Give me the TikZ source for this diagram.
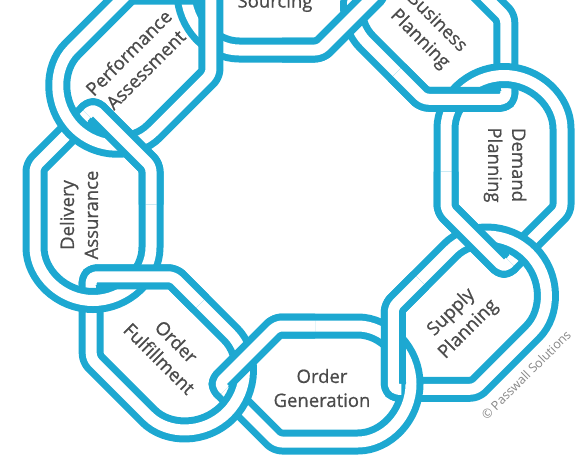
\documentclass[tikz,border=0pt]{standalone}
\usepackage{fontspec}
\setmainfont{Open Sans}
\newfontfamily\labfont{Open Sans}[FakeBold=0.8]
\definecolor{chainblue}{RGB}{29,168,209}
\definecolor{txtgray}{RGB}{75,75,75}
\definecolor{copygray}{RGB}{135,135,135}
\tikzset{
  band/.style={draw=chainblue, line width=7pt, double=white, double distance=11pt, rounded corners=5pt, line join=round},
  linklabel/.style={text=txtgray, font=\labfont\fontsize{18.5}{24}\selectfont, align=center, inner sep=0pt},
}
% full link: arc centre (#1,#2), direction #3 towards the pointed end
\newcommand{\chainlink}[3]{%
  \begin{scope}[shift={(#1,#2)}, rotate=#3]
    \draw[band] (38,-58) -- (76,-58) -- (134,0) -- (76,58) -- (0,58)
      arc[start angle=90, end angle=270, radius=58pt] -- cycle;
  \end{scope}}
% inner chamfer of a link, redrawn on top
\newcommand{\innerover}[3]{%
  \begin{scope}[shift={(#1,#2)}, rotate=#3]
    \draw[band] (38,-58) -- (76,-58) -- (134,0) -- (128.2,5.8);
  \end{scope}}
\begin{document}
\begin{tikzpicture}[x=1pt,y=1pt]
\useasboundingbox (0,0) rectangle (576,-469);
\clip (0,0) rectangle (576,-469);
% links, clockwise from the top
\chainlink{244}{8}{0}
\chainlink{411}{-4.5}{-45}
\chainlink{504}{-133.5}{-90}
\chainlink{488}{-294.5}{-135}
\chainlink{353}{-384}{180}
\chainlink{186}{-371.5}{135}
\chainlink{93}{-242.5}{90}
\chainlink{116.2}{-86.8}{45}
% weaving: inner chamfers over the next link's rounded end
\innerover{244}{8}{0}
\innerover{411}{-4.5}{-45}
\innerover{504}{-133.5}{-90}
\innerover{488}{-294.5}{-135}
\innerover{353}{-384}{180}
\innerover{186}{-371.5}{135}
\innerover{93}{-242.5}{90}
% first link's rounded end over the last link
\begin{scope}[shift={(244,8)}]
  \draw[band] (38,58) -- (0,58) arc[start angle=90, end angle=185, radius=58pt];
\end{scope}
% labels
\node[linklabel, anchor=base] (src) at (275,-7.5) {Sourcing};
\node[linklabel, rotate=-45] (bus) at (428,-31) {Business\\Planning};
\node[linklabel, rotate=-90] (dem) at (505,-165) {Demand\\Planning};
\node[linklabel, rotate=45] (sup) at (460,-321) {Supply\\Planning};
\node[linklabel] (gen) at (322,-388) {Order\\Generation};
\node[linklabel, rotate=-45] (ful) at (168,-350) {Order\\Fulfillment};
\node[linklabel, rotate=90] (del) at (79,-215) {Delivery\\Assurance};
\node[linklabel, rotate=45] (per) at (137,-61) {Performance\\Assessment};
\node[text=copygray, font=\fontsize{12.5}{14}\selectfont, rotate=45, inner sep=0pt] (copy) at (526,-375) {© Passwall Solutions};
\end{tikzpicture}
\end{document}
